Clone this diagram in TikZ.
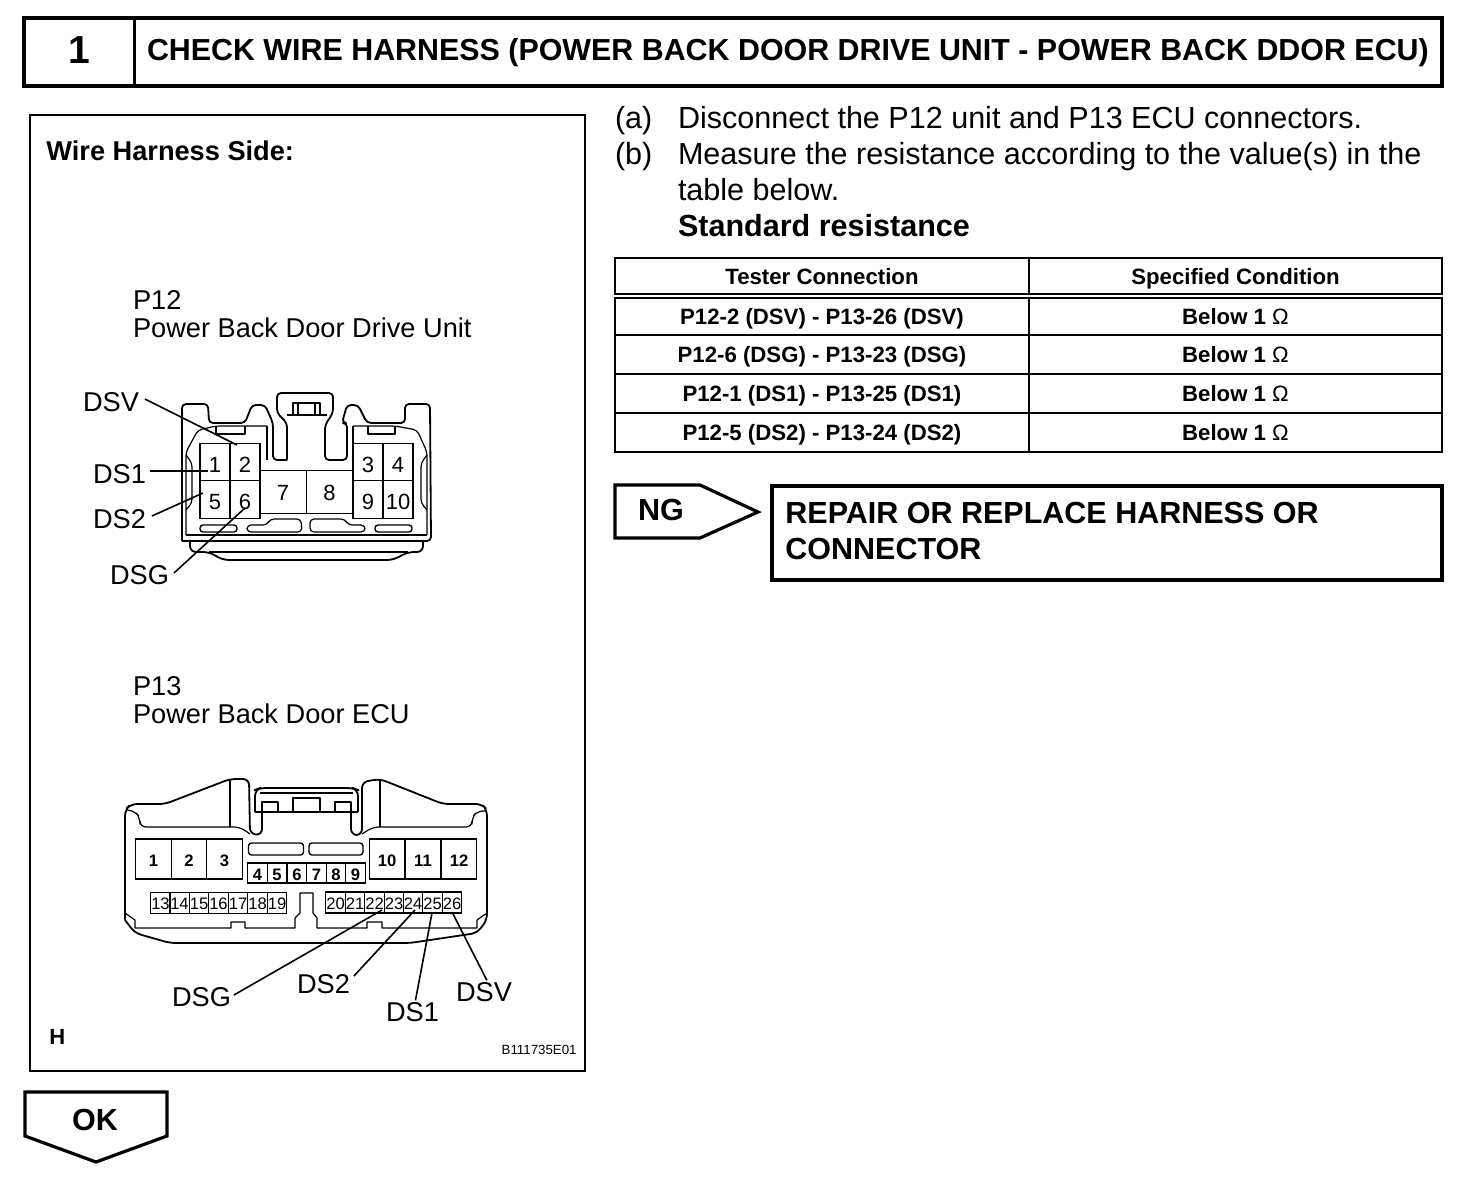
\documentclass[tikz,border=0pt]{standalone}
\usepackage{fontspec}
\setmainfont{Liberation Sans}
\usetikzlibrary{positioning}
\tikzset{
  txt/.style={inner sep=0pt, outer sep=0pt, anchor=base west, align=left, font=\fontsize{15.27}{18}\selectfont},
  lbl/.style={inner sep=0pt, outer sep=0pt, anchor=west, align=left, font=\fontsize{13.6}{14}\selectfont},
  head/.style={inner sep=0pt, outer sep=0pt, anchor=base west, font=\bfseries\fontsize{15.2}{18}\selectfont},
  cell/.style={draw, line width=0.9pt, inner sep=0pt, outer sep=0pt, text height=8.5pt, text depth=0.5pt, font=\bfseries\fontsize{11.1}{13}\selectfont},
  pinA/.style={draw, line width=0.7pt, inner sep=0pt, outer sep=0pt, font=\fontsize{11}{12}\selectfont},
  pinB/.style={draw, line width=0.6pt, inner sep=0pt, outer sep=0pt, font=\fontsize{8.3}{9}\selectfont},
  leader/.style={line width=0.8pt},
  body/.style={line width=0.9pt, line join=round},
  thin body/.style={line width=0.6pt, line join=round},
  slot/.style={draw, line width=0.7pt, rounded corners=1.5pt, inner sep=0pt, outer sep=0pt},
}
\begin{document}
\begin{tikzpicture}[x=0.5pt, y=-0.5pt]
\useasboundingbox (0,0) rectangle (1472,1178);

% Title bar
\node[draw, line width=2pt, minimum width=709pt, minimum height=34pt, inner sep=0pt, outer sep=0pt, anchor=north west] (bar) at (24,18) {};
\draw[line width=1.5pt] (134,18) coordinate (bartop) -- (134,86) coordinate (barbot);
\node[inner sep=0pt, font=\bfseries\fontsize{19.5}{20}\selectfont] (num) at (79,50) {1};
\node[head] (title) at (147,61) {CHECK WIRE HARNESS (POWER BACK DOOR DRIVE UNIT - POWER BACK DDOR ECU)};

% Left panel
\node[draw, line width=1.2pt, minimum width=277.5pt, minimum height=478pt, inner sep=0pt, outer sep=0pt, anchor=north west] (panel) at (30,115) {};
\node[inner sep=0pt, anchor=west, font=\bfseries\fontsize{13.6}{15}\selectfont] (side) at (46,151) {Wire Harness Side:};
\node[lbl] (p12a) at (133,300) {P12};
\node[lbl] (p12b) at (133,328) {Power Back Door Drive Unit};
\node[lbl] (p13a) at (133,686) {P13};
\node[lbl] (p13b) at (133,714) {Power Back Door ECU};
\node[inner sep=0pt, anchor=west, font=\bfseries\fontsize{11}{13}\selectfont] (hmark) at (49,1037) {H};
\node[inner sep=0pt, anchor=east, font=\fontsize{6.65}{8}\selectfont] (code) at (577,1050) {B111735E01};

% P12 connector outline
\draw[body, rounded corners=2pt] (182,541) -- (182,404) -- (208,404) -- (209,423) -- (245,423) -- (252,405) -- (265,405) -- (273,423) -- (273,460) -- (287,460);
\draw[body, rounded corners=2pt] (287,460) -- (287,423) -- (277,413) -- (277,393) -- (333,393) -- (333,413) -- (325,425) -- (325,460) -- (347,460) -- (347,423) -- (342,423) -- (347,405) -- (358,405) -- (367,423) -- (405,423) -- (405,404) -- (430,404) -- (431,541) -- (182,541);
\draw[thin body] (287,415) -- (327,415);
\draw[thin body] (293,415) -- (293,403) -- (320,403) -- (320,415) (298,415) -- (298,403) (315,415) -- (315,403);
\draw[thin body] (267,426) -- (267,460) (353,426) -- (353,443);
\draw[thin body, rounded corners=2pt] (186,535) -- (186,452) -- (198,430) -- (216,426) -- (245,426) -- (267,426);
\draw[thin body, rounded corners=2pt] (427,535) -- (427,452) -- (417,430) -- (395,426) -- (353,426);
\draw[thin body] (216,426) -- (216,434) -- (245,434) -- (245,426) (368,426) -- (368,434) -- (395,434) -- (395,426);
\draw[thin body] (186,535) -- (427,535);
\draw[thin body, rounded corners=2pt] (186,455) -- (192,463) -- (192,503) -- (186,510);
\draw[thin body, rounded corners=2pt] (427,455) -- (421,463) -- (421,503) -- (427,510);
\draw[body, rounded corners=3pt] (190,541) -- (190,552) -- (209,552) -- (223,560) -- (393,560) -- (408,552) -- (423,552) -- (423,541);
\draw[thin body] (209,552) -- (408,552);
\node[slot, minimum width=18.5pt, minimum height=3.5pt] (slotA) at (218.5,528.5) {};
\draw[thin body, rounded corners=2pt] (247,525) -- (267,525) -- (270,519) -- (301,519) -- (302,532) -- (247,532) -- cycle;
\draw[thin body, rounded corners=2pt] (310,519) -- (345,519) -- (348,525) -- (365,525) -- (365,532) -- (310,532) -- cycle;
\node[slot, minimum width=18.5pt, minimum height=3.5pt] (slotD) at (393.5,528.5) {};

% P12 pins
\foreach \n/\x/\y in {1/215/462,2/245/462,5/215/499.5,6/245/499.5,3/368/462,4/398/462,9/368/499.5,10/398/499.5}
  \node[pinA, minimum width=15pt, minimum height=18.75pt] (a\n) at (\x,\y) {\raisebox{-1.2pt}[7.9pt][0pt]{\n}};
\node[pinA, line width=0.4pt, minimum width=23pt, minimum height=21.5pt] (a7) at (283,492) {\raisebox{-.5pt}[7.9pt][0pt]{7}};
\node[pinA, line width=0.4pt, minimum width=23.5pt, minimum height=21.5pt] (a8) at (329.5,492) {\raisebox{-.5pt}[7.9pt][0pt]{8}};

% P12 labels
\node[lbl] (dsvA) at (83,402) {DSV};
\node[lbl] (dsoneA) at (93,474) {DS1};
\node[lbl] (dstwoA) at (93,519) {DS2};
\node[lbl] (dsgA) at (110,575) {DSG};
\coordinate (tipdsvA) at (237,445);
\coordinate (tipdsoneA) at (208,471);
\coordinate (tipdstwoA) at (203,493);
\coordinate (tipdsgA) at (245,508);
\draw[leader] (dsvA.east)+(6,-3) -- (tipdsvA);
\draw[leader] (dsoneA.east)+(4,-3) -- (tipdsoneA);
\draw[leader] (dstwoA.east)+(6,-3) -- (tipdstwoA);
\draw[leader] (dsgA.east)+(5,-2) -- (tipdsgA);

% P13 connector outline
\draw[body, rounded corners=3pt] (125,920) -- (125,810) -- (131,804) -- (165,804) -- (230,779) -- (249,779) -- (250,834) -- (262,835) -- (262,812);
\draw[body, rounded corners=3pt] (255,812) -- (255,790) -- (260,788) -- (353,788) -- (358,790) -- (358,812);
\draw[body] (255,812) -- (262,812) (351,812) -- (358,812) (260,793) -- (353,793) (262,812) -- (351,812);
\draw[body, rounded corners=3pt] (351,812) -- (351,835) -- (362,835) -- (362,782) -- (380,779) -- (443,804) -- (482,804) -- (487,810) -- (487,920) -- (477,933) -- (410,943) -- (170,943) -- (135,933) -- (125,920);
\draw[thin body] (262,812) -- (262,802) -- (278,802) -- (278,812) (293,812) -- (293,798) -- (320,798) -- (320,812) (335,812) -- (335,802) -- (351,802) -- (351,812);
\draw[thin body] (230,780) -- (230,827) (380,780) -- (380,827);
\draw[thin body, rounded corners=3pt] (127,810) -- (135,811) -- (140,818) -- (140,827) -- (240,827) -- (250,834);
\draw[thin body, rounded corners=3pt] (362,834) -- (373,827) -- (472,827) -- (472,818) -- (477,811) -- (486,811);
\draw[thin body] (125,913) -- (135,920) -- (135,928) -- (231,928) -- (231,922) -- (245,922) -- (245,928) -- (295,928) -- (295,918) -- (300,913) -- (300,893) -- (313,893) -- (313,913) -- (317,918) -- (317,928) -- (367,928) -- (367,922) -- (382,922) -- (382,928) -- (477,928) -- (477,920) -- (487,913);
\node[slot, minimum width=27.5pt, minimum height=6pt] (slotE) at (276,849) {};
\node[slot, minimum width=27pt, minimum height=6pt] (slotF) at (336,849) {};

% P13 pins
\foreach \n/\x in {1/153.5,2/189,3/224.5,10/387,11/423,12/459}
  \node[pinB, minimum width=17.75pt, minimum height=20pt, font=\bfseries\fontsize{8.3}{9}\selectfont] (b\n) at (\x,859) {\raisebox{-.7pt}[5.9pt][0pt]{\n}};
\foreach \n/\x in {4/257.5,5/277,6/297,7/316.5,8/336,9/355.5}
  \node[pinB, minimum width=9.75pt, minimum height=10pt, font=\bfseries\fontsize{8.3}{9}\selectfont] (b\n) at (\x,873) {\raisebox{-.7pt}[5.9pt][0pt]{\n}};
\foreach \n/\x in {13/160.5,14/179.5,15/199,16/218.5,17/238,18/257.5,19/277}
  \node[pinB, line width=0.4pt, minimum width=9.75pt, minimum height=10.5pt] (b\n) at (\x,902.5) {\raisebox{-.5pt}[5.9pt][0pt]{\n}};
\foreach \n/\x in {20/335.5,21/355,22/374.5,23/394,24/413,25/432.5,26/452}
  \node[pinB, line width=0.7pt, minimum width=9.75pt, minimum height=10.5pt] (b\n) at (\x,902.5) {\raisebox{-.5pt}[5.9pt][0pt]{\n}};

% P13 labels
\node[lbl] (dsgB) at (172,997) {DSG};
\node[lbl] (dstwoB) at (297,984) {DS2};
\node[lbl] (dsoneB) at (386,1012) {DS1};
\node[lbl] (dsvB) at (456,992) {DSV};
\coordinate (tipdsgB) at (382,910);
\coordinate (tipdstwoB) at (415,910);
\coordinate (tipdsoneB) at (432,913);
\coordinate (tipdsvB) at (452,912);
\draw[leader] (dsgB.east)+(3,-2) -- (tipdsgB);
\draw[leader] (dstwoB.east)+(4,-8) -- (tipdstwoB);
\draw[leader] (dsoneB.north)+(3,-2) -- (tipdsoneB);
\draw[leader] (dsvB.north)+(3,-2) -- (tipdsvB);

% Steps
\node[txt] (stepa) at (615,128.5) {(a)};
\node[txt] (linea) at (678,128.5) {Disconnect the P12 unit and P13 ECU connectors.};
\node[txt] (stepb) at (615,164.5) {(b)};
\node[txt] (lineb) at (678,164.5) {Measure the resistance according to the value(s) in the};
\node[txt] (linec) at (678,200.5) {table below.};
\node[txt, font=\bfseries\fontsize{15.27}{18}\selectfont] (std) at (678,236.5) {Standard resistance};

% Table
\foreach \n/\y/\h/\a/\b in {hd/276/18/Tester Connection/Specified Condition,
  r1/316.5/18.5/P12-2 (DSV) - P13-26 (DSV)/Below 1 {\mdseries Ω},
  r2/354.5/19.5/P12-6 (DSG) - P13-23 (DSG)/Below 1 {\mdseries Ω},
  r3/393.5/19.5/P12-1 (DS1) - P13-25 (DS1)/Below 1 {\mdseries Ω},
  r4/432.5/19.5/P12-5 (DS2) - P13-24 (DS2)/Below 1 {\mdseries Ω}} {
  \node[cell, minimum width=207pt, minimum height=\h pt] (\n l) at (822,\y) {\a};
  \node[cell, minimum width=206.5pt, minimum height=\h pt] (\n r) at (1235.5,\y) {\b};
}

% NG branch
\node[draw, line width=1.8pt, shape=rectangle, minimum width=335pt, minimum height=47pt, inner sep=0pt, outer sep=0pt, anchor=north west] (repair) at (772,486) {};
\node[inner sep=0pt, anchor=north west, align=left, font=\bfseries\fontsize{15.25}{18}\selectfont] (repairt) at (785,501.5) {REPAIR OR REPLACE HARNESS OR\\CONNECTOR};
\coordinate (nga) at (615,485);
\coordinate (ngb) at (700,485);
\coordinate (ngc) at (758,512);
\coordinate (ngd) at (700,538);
\coordinate (nge) at (615,538);
\draw[line width=1.6pt, line join=miter] (nga) -- (ngb) -- (ngc) -- (ngd) -- (nge) -- cycle;
\node[inner sep=0pt, font=\bfseries\fontsize{15.27}{18}\selectfont] (ng) at (661,510) {NG};

% OK branch
\coordinate (oka) at (25,1092);
\coordinate (okb) at (167,1092);
\coordinate (okc) at (167,1136);
\coordinate (okd) at (96,1162);
\coordinate (oke) at (25,1136);
\draw[line width=1.6pt, line join=miter] (oka) -- (okb) -- (okc) -- (okd) -- (oke) -- cycle;
\node[inner sep=0pt, font=\bfseries\fontsize{15.27}{18}\selectfont] (ok) at (95,1120) {OK};
\end{tikzpicture}
\end{document}
